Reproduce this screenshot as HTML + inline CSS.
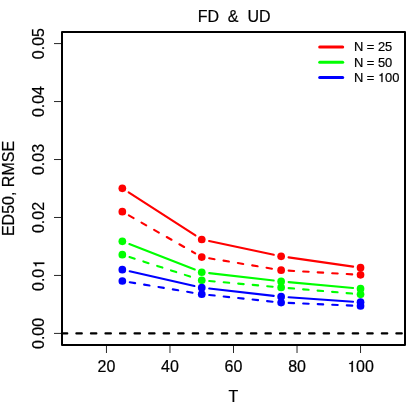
<!DOCTYPE html>
<html><head><meta charset="utf-8"><style>
html,body{margin:0;padding:0;background:#fff;}
svg{display:block;will-change:transform;font-family:"Liberation Sans",sans-serif;}
text{stroke:#000;stroke-width:0.2px;}
</style></head><body>
<svg width="407" height="407" viewBox="0 0 407 407">
<rect x="0" y="0" width="407" height="407" fill="#fff"/>
<line x1="128.65" y1="192.41" x2="195.44" y2="235.44" stroke="#ff0000" stroke-width="2.1" stroke-linecap="round"/>
<line x1="209.08" y1="241.05" x2="273.80" y2="254.75" stroke="#ff0000" stroke-width="2.1" stroke-linecap="round"/>
<line x1="288.56" y1="257.37" x2="353.11" y2="266.63" stroke="#ff0000" stroke-width="2.1" stroke-linecap="round"/>
<circle cx="122.34" cy="188.35" r="3.85" fill="#ff0000"/>
<circle cx="201.74" cy="239.50" r="3.85" fill="#ff0000"/>
<circle cx="281.14" cy="256.30" r="3.85" fill="#ff0000"/>
<circle cx="360.54" cy="267.70" r="3.85" fill="#ff0000"/>
<line x1="128.85" y1="215.37" x2="195.23" y2="253.33" stroke="#ff0000" stroke-width="2.1" stroke-linecap="round" stroke-dasharray="5.5,9.045"/>
<line x1="209.14" y1="258.28" x2="273.74" y2="268.97" stroke="#ff0000" stroke-width="2.1" stroke-linecap="round" stroke-dasharray="5.5,9.045"/>
<line x1="288.63" y1="270.64" x2="353.05" y2="274.41" stroke="#ff0000" stroke-width="2.1" stroke-linecap="round" stroke-dasharray="5.5,9.045"/>
<circle cx="122.34" cy="211.65" r="3.85" fill="#ff0000"/>
<circle cx="201.74" cy="257.05" r="3.85" fill="#ff0000"/>
<circle cx="281.14" cy="270.20" r="3.85" fill="#ff0000"/>
<circle cx="360.54" cy="274.85" r="3.85" fill="#ff0000"/>
<line x1="129.33" y1="244.07" x2="194.75" y2="269.53" stroke="#00ff00" stroke-width="2.1" stroke-linecap="round"/>
<line x1="209.19" y1="273.11" x2="273.69" y2="280.54" stroke="#00ff00" stroke-width="2.1" stroke-linecap="round"/>
<line x1="288.61" y1="282.09" x2="353.07" y2="288.01" stroke="#00ff00" stroke-width="2.1" stroke-linecap="round"/>
<circle cx="122.34" cy="241.35" r="3.85" fill="#00ff00"/>
<circle cx="201.74" cy="272.25" r="3.85" fill="#00ff00"/>
<circle cx="281.14" cy="281.40" r="3.85" fill="#00ff00"/>
<circle cx="360.54" cy="288.70" r="3.85" fill="#00ff00"/>
<line x1="129.48" y1="256.96" x2="194.61" y2="278.04" stroke="#00ff00" stroke-width="2.1" stroke-linecap="round" stroke-dasharray="5.5,9.045"/>
<line x1="209.21" y1="281.02" x2="273.67" y2="286.78" stroke="#00ff00" stroke-width="2.1" stroke-linecap="round" stroke-dasharray="5.5,9.045"/>
<line x1="288.61" y1="288.09" x2="353.06" y2="293.66" stroke="#00ff00" stroke-width="2.1" stroke-linecap="round" stroke-dasharray="5.5,9.045"/>
<circle cx="122.34" cy="254.65" r="3.85" fill="#00ff00"/>
<circle cx="201.74" cy="280.35" r="3.85" fill="#00ff00"/>
<circle cx="281.14" cy="287.45" r="3.85" fill="#00ff00"/>
<circle cx="360.54" cy="294.30" r="3.85" fill="#00ff00"/>
<line x1="129.66" y1="271.35" x2="194.43" y2="286.00" stroke="#0000ff" stroke-width="2.1" stroke-linecap="round"/>
<line x1="209.19" y1="288.50" x2="273.69" y2="295.85" stroke="#0000ff" stroke-width="2.1" stroke-linecap="round"/>
<line x1="288.62" y1="297.22" x2="353.05" y2="301.68" stroke="#0000ff" stroke-width="2.1" stroke-linecap="round"/>
<circle cx="122.34" cy="269.70" r="3.85" fill="#0000ff"/>
<circle cx="201.74" cy="287.65" r="3.85" fill="#0000ff"/>
<circle cx="281.14" cy="296.70" r="3.85" fill="#0000ff"/>
<circle cx="360.54" cy="302.20" r="3.85" fill="#0000ff"/>
<line x1="129.74" y1="282.23" x2="194.34" y2="292.97" stroke="#0000ff" stroke-width="2.1" stroke-linecap="round" stroke-dasharray="5.5,9.045"/>
<line x1="209.20" y1="294.99" x2="273.68" y2="301.81" stroke="#0000ff" stroke-width="2.1" stroke-linecap="round" stroke-dasharray="5.5,9.045"/>
<line x1="288.63" y1="302.92" x2="353.04" y2="305.63" stroke="#0000ff" stroke-width="2.1" stroke-linecap="round" stroke-dasharray="5.5,9.045"/>
<circle cx="122.34" cy="281.00" r="3.85" fill="#0000ff"/>
<circle cx="201.74" cy="294.20" r="3.85" fill="#0000ff"/>
<circle cx="281.14" cy="302.60" r="3.85" fill="#0000ff"/>
<circle cx="360.54" cy="305.95" r="3.85" fill="#0000ff"/>
<line x1="61.8" y1="333.41" x2="405.0" y2="333.41" stroke="#000" stroke-width="2.1" stroke-linecap="round" stroke-dasharray="5.5,9.045"/>
<rect x="62.0" y="32.0" width="343.0" height="313.0" fill="none" stroke="#000" stroke-width="2" stroke-linejoin="round"/>
<line x1="106.46" y1="345.0" x2="106.46" y2="353.0" stroke="#000" stroke-width="0.85"/>
<g transform="translate(106.46,371.9)"><text x="-8.898" y="0" font-size="16" xml:space="preserve">20</text></g>
<line x1="169.98" y1="345.0" x2="169.98" y2="353.0" stroke="#000" stroke-width="0.85"/>
<g transform="translate(169.98,371.9)"><text x="-8.898" y="0" font-size="16" xml:space="preserve">40</text></g>
<line x1="233.50" y1="345.0" x2="233.50" y2="353.0" stroke="#000" stroke-width="0.85"/>
<g transform="translate(233.50,371.9)"><text x="-8.898" y="0" font-size="16" xml:space="preserve">60</text></g>
<line x1="297.02" y1="345.0" x2="297.02" y2="353.0" stroke="#000" stroke-width="0.85"/>
<g transform="translate(297.02,371.9)"><text x="-8.898" y="0" font-size="16" xml:space="preserve">80</text></g>
<line x1="360.54" y1="345.0" x2="360.54" y2="353.0" stroke="#000" stroke-width="0.85"/>
<g transform="translate(360.54,371.9)"><path d="M-9.051,-7.844 L-9.051,0.000 L-7.637,0.000 L-7.637,-11.008 L-8.566,-11.008 C-9.066,-9.320 -9.387,-9.086 -11.316,-8.820 L-11.316,-7.844Z" fill="#000" stroke="#000" stroke-width="0.2"/><text x="-4.449" y="0" font-size="16" xml:space="preserve">00</text></g>
<line x1="62.0" y1="333.41" x2="54.0" y2="333.41" stroke="#000" stroke-width="0.85"/>
<g transform="translate(44.3,333.41) rotate(-90)"><text x="-15.570" y="0" font-size="16" xml:space="preserve">0.00</text></g>
<line x1="62.0" y1="275.44" x2="54.0" y2="275.44" stroke="#000" stroke-width="0.85"/>
<g transform="translate(44.3,275.44) rotate(-90)"><text x="-15.570" y="0" font-size="16" xml:space="preserve">0.0</text><path d="M11.469,-7.844 L11.469,0.000 L12.883,0.000 L12.883,-11.008 L11.953,-11.008 C11.453,-9.320 11.133,-9.086 9.203,-8.820 L9.203,-7.844Z" fill="#000" stroke="#000" stroke-width="0.2"/></g>
<line x1="62.0" y1="217.48" x2="54.0" y2="217.48" stroke="#000" stroke-width="0.85"/>
<g transform="translate(44.3,217.48) rotate(-90)"><text x="-15.570" y="0" font-size="16" xml:space="preserve">0.02</text></g>
<line x1="62.0" y1="159.52" x2="54.0" y2="159.52" stroke="#000" stroke-width="0.85"/>
<g transform="translate(44.3,159.52) rotate(-90)"><text x="-15.570" y="0" font-size="16" xml:space="preserve">0.03</text></g>
<line x1="62.0" y1="101.56" x2="54.0" y2="101.56" stroke="#000" stroke-width="0.85"/>
<g transform="translate(44.3,101.56) rotate(-90)"><text x="-15.570" y="0" font-size="16" xml:space="preserve">0.04</text></g>
<line x1="62.0" y1="43.59" x2="54.0" y2="43.59" stroke="#000" stroke-width="0.85"/>
<g transform="translate(44.3,43.59) rotate(-90)"><text x="-15.570" y="0" font-size="16" xml:space="preserve">0.05</text></g>
<text x="234.1" y="21.9" font-size="16" text-anchor="middle" xml:space="preserve">FD  &amp;  UD</text>
<text x="233.5" y="402.4" font-size="16" text-anchor="middle">T</text>
<text transform="translate(13.8,188.5) rotate(-90)" font-size="16" text-anchor="middle">ED50, RMSE</text>
<line x1="319.7" y1="46.9" x2="342.7" y2="46.9" stroke="#ff0000" stroke-width="3" stroke-linecap="round"/>
<g transform="translate(353.9,51.45)"><text x="0.000" y="0" font-size="12.9" xml:space="preserve">N = 25</text></g>
<line x1="319.7" y1="62.15" x2="342.7" y2="62.15" stroke="#00ff00" stroke-width="3" stroke-linecap="round"/>
<g transform="translate(353.9,66.70)"><text x="0.000" y="0" font-size="12.9" xml:space="preserve">N = 50</text></g>
<line x1="319.7" y1="77.4" x2="342.7" y2="77.4" stroke="#0000ff" stroke-width="3" stroke-linecap="round"/>
<g transform="translate(353.9,81.95)"><text x="0.000" y="0" font-size="12.9" xml:space="preserve">N = </text><path d="M27.482,-6.324 L27.482,0.000 L28.622,0.000 L28.622,-8.875 L27.872,-8.875 C27.469,-7.515 27.211,-7.326 25.655,-7.111 L25.655,-6.324Z" fill="#000" stroke="#000" stroke-width="0.2"/><text x="31.192" y="0" font-size="12.9" xml:space="preserve">00</text></g>
</svg>
</body></html>
